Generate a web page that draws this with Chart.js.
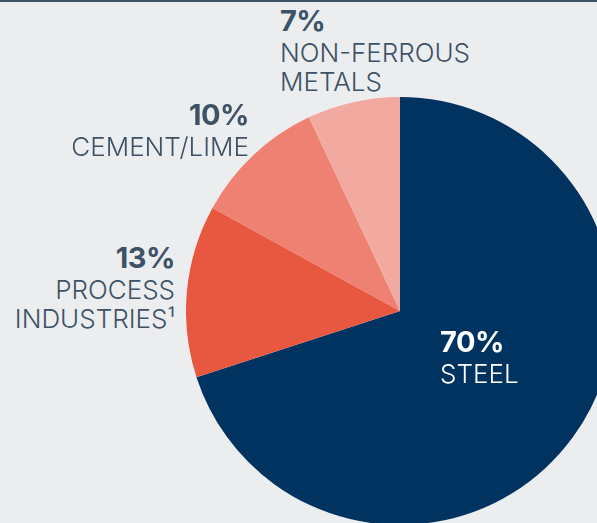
<!DOCTYPE html>
<html>
<head>
<meta charset="utf-8">
<script src="https://cdn.jsdelivr.net/npm/chart.js@4/dist/chart.umd.min.js"></script>
<style>
  html, body { margin: 0; padding: 0; }
  body {
    width: 597px; height: 523px; overflow: hidden; position: relative;
    background: #ECEDEF; font-family: 'Inter', sans-serif; color: #3D5266;
  }
  #topline { position: absolute; left: 0; top: 0; width: 597px; height: 2px; background: #3F5468; }
  #pie-wrap { position: absolute; left: 186px; top: 97px; width: 428px; height: 428px; }
  .lbl { position: absolute; white-space: pre-line; }
  .lbl .pct { display: block; font-weight: 700; font-size: 29px; line-height: 30px; letter-spacing: -0.5px; }
  .lbl .txt { display: block; font-weight: 300; font-size: 26px; line-height: 29px; margin-top: 2px; }
</style>
</head>
<body>
<div id="topline"></div>
<div id="pie-wrap"><canvas id="share-chart"></canvas></div>
<div id="labels"></div>

<script>
/* ── DATA ───────────────────────────────────────────── */
var CATEGORIES = ['STEEL', 'PROCESS\nINDUSTRIES\u00B9', 'CEMENT/LIME', 'NON-FERROUS\nMETALS'];
var SHARES     = [70, 13, 10, 7];
var COLORS     = ['#003360', '#E85840', '#EE8171', '#F2AAA0'];

/* label boxes (layout only) */
var LABEL_POS = [
    { left: 440, top: 327, align: 'left',  color: '#FFFFFF' },
    { right: 422, top: 243, align: 'right', color: '#3D5266' },
    { right: 348, top: 100, align: 'right', color: '#3D5266' },
    { left: 280, top: 6,   align: 'left',  color: '#3D5266' }
];

function renderLabels() {
    var box = document.getElementById('labels');
    box.innerHTML = CATEGORIES.map(function(c, i) {
        var p = LABEL_POS[i];
        var pos = p.left !== undefined ? 'left:' + p.left + 'px;' : 'right:' + p.right + 'px;';
        return '<div class="lbl" style="' + pos + 'top:' + p.top + 'px;text-align:' + p.align + ';color:' + p.color + ';">' +
            '<span class="pct">' + SHARES[i] + '%</span>' +
            '<span class="txt">' + c + '</span>' +
        '</div>';
    }).join('');
}

function renderPie() {
    var ctx = document.getElementById('share-chart');
    new Chart(ctx, {
        type: 'pie',
        data: {
            labels: CATEGORIES,
            datasets: [{
                data: SHARES,
                backgroundColor: COLORS,
                borderWidth: 0,
                hoverOffset: 0
            }]
        },
        options: {
            responsive: true, maintainAspectRatio: false,
            animation: false,
            layout: { padding: 0 },
            plugins: { legend: { display: false }, tooltip: { enabled: false } }
        }
    });
}

renderLabels();
renderPie();
</script>
</body>
</html>
